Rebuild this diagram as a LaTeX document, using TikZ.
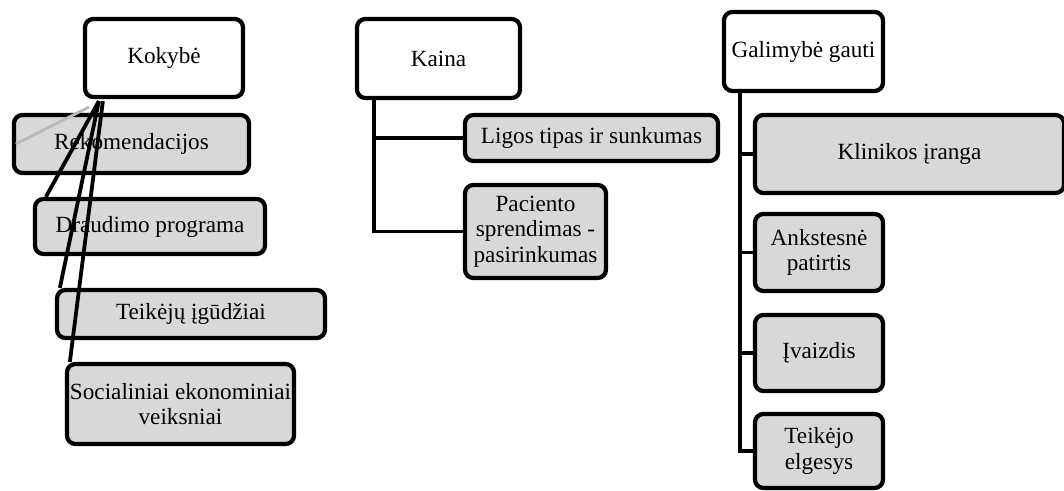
\documentclass[tikz,border=0pt]{standalone}
\usepackage{fontspec}
\setmainfont{Liberation Serif}
\usepackage{tikz}
\usetikzlibrary{calc,positioning}
\definecolor{boxgrey}{RGB}{216,216,216}

\tikzset{
  topbox/.style={draw=black,line width=3pt,rounded corners=6pt,fill=white,
                 align=center,inner sep=1pt,font=\fontsize{16.5}{18}\selectfont},
  subbox/.style={topbox,fill=boxgrey},
  link/.style={draw=black,line width=2.7pt}
}

\begin{document}
\begin{tikzpicture}[x=0.025cm,y=-0.025cm]
  \useasboundingbox (0,0) rectangle (1064,491);

  % Kokybe
  \node[topbox,minimum width=3.95cm,minimum height=1.95cm] (kokybe) at (164,58) {Kokybė};
  \node[subbox,minimum width=5.875cm,minimum height=1.45cm] (rekom) at (131.5,144) {Rekomendacijos};
  \node[subbox,minimum width=5.75cm,minimum height=1.375cm] (draud) at (150,226.5) {Draudimo programa};
  \node[subbox,minimum width=6.7cm,minimum height=1.2cm] (teik) at (191,314) {Teikėjų įgūdžiai};
  \node[subbox,minimum width=5.675cm,minimum height=2cm] (socia) at (180.5,404) {Socialiniai ekonominiai\\veiksniai};
  \coordinate (kroot) at ($(kokybe.south west)+(16,2)$);
  \draw[gray!55,line width=2pt] ($(kokybe.south west)+(6,8)$) -- ($(rekom.west)+(4,0)$);
  \draw[link] (kroot) -- ($(draud.north west)+(13,0)$);
  \draw[link] (kroot) -- ($(teik.north west)+(5,0)$);
  \draw[link] ($(kroot)+(4,0)$) -- ($(socia.north west)+(5,0)$);

  % Kaina
  \node[topbox,minimum width=4.075cm,minimum height=1.975cm] (kaina) at (438.5,58.5) {Kaina};
  \node[subbox,minimum width=6.325cm,minimum height=1.15cm] (ligos) at (591.5,138) {Ligos tipas ir sunkumas};
  \node[subbox,minimum width=3.525cm,minimum height=2.325cm] (pacie) at (535.5,231.5) {Paciento\\sprendimas -\\pasirinkumas};
  \draw[link] (kaina.south west) ++(19,0) coordinate (ktrunk) |- (ligos.west);
  \draw[link] (ktrunk) |- (pacie.west);

  % Galimybe gauti
  \node[topbox,minimum width=3.975cm,minimum height=1.975cm] (galim) at (803.5,51.5) {Galimybė gauti};
  \node[subbox,minimum width=7.725cm,minimum height=1.95cm] (klin) at (909.5,154) {Klinikos įranga};
  \node[subbox,minimum width=3.2cm,minimum height=1.925cm] (ankst) at (819,252.5) {Ankstesnė\\patirtis};
  \node[subbox,minimum width=3.2cm,minimum height=1.9cm] (ivaiz) at (819,353) {Įvaizdis};
  \node[subbox,minimum width=3.2cm,minimum height=1.85cm] (teikej) at (819,451) {Teikėjo\\elgesys};
  \draw[link] (galim.south west) ++(18,0) coordinate (gtrunk) |- (teikej.west);
  \foreach \child in {klin,ankst,ivaiz}
    \draw[link] (gtrunk |- \child.west) -- (\child.west);
\end{tikzpicture}
\end{document}
